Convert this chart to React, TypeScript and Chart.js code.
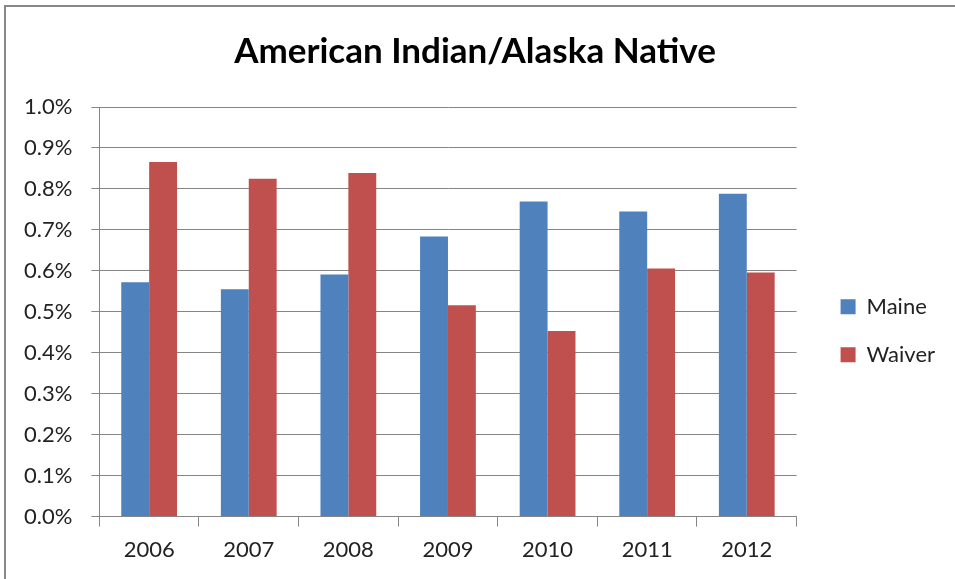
import React, { useEffect, useRef } from "react";
import { Chart, registerables } from "chart.js";

Chart.register(...registerables);

const categories = ["2006", "2007", "2008", "2009", "2010", "2011", "2012"];
const maineValues = [0.572, 0.555, 0.591, 0.684, 0.769, 0.745, 0.788];
const waiverValues = [0.866, 0.825, 0.839, 0.516, 0.453, 0.606, 0.596];
const seriesNames = ["Maine", "Waiver"];
const titleText = "American Indian/Alaska Native";

const FONT = "Lato, 'Open Sans', 'Liberation Sans', sans-serif";

export default function App() {
  const canvasRef = useRef<HTMLCanvasElement | null>(null);

  useEffect(() => {
    if (!canvasRef.current) return;
    const chart = new Chart(canvasRef.current, {
      type: "bar",
      data: {
        labels: categories,
        datasets: [
          {
            label: seriesNames[0],
            data: maineValues,
            backgroundColor: "#4f81bd",
            categoryPercentage: 0.56,
            barPercentage: 1.0,
          },
          {
            label: seriesNames[1],
            data: waiverValues,
            backgroundColor: "#c0504d",
            categoryPercentage: 0.56,
            barPercentage: 1.0,
          },
        ],
      },
      options: {
        animation: false,
        responsive: false,
        layout: { padding: { left: 5, right: 10, top: 0, bottom: 6 } },
        plugins: {
          title: {
            display: true,
            text: titleText,
            color: "#000",
            font: { family: FONT, size: 35, weight: "bold" },
            padding: { top: 31, bottom: 34 },
          },
          legend: {
            position: "right",
            fullSize: false,
            title: { display: true, text: " ", font: { size: 10 }, padding: 13 },
            labels: {
              boxWidth: 15,
              boxHeight: 15,
              color: "#222",
              font: { family: FONT, size: 22 },
              padding: 26,
            },
          },
          tooltip: { enabled: false },
        },
        scales: {
          x: {
            grid: {
              display: true,
              offset: true,
              drawOnChartArea: false,
              drawTicks: true,
              tickLength: 10,
              color: "#868686",
            },
            border: { color: "#868686" },
            ticks: {
              color: "#222",
              font: { family: FONT, size: 22 },
              padding: 10,
            },
          },
          y: {
            min: 0,
            max: 1.0,
            ticks: {
              stepSize: 0.1,
              color: "#222",
              font: { family: FONT, size: 22 },
              padding: 19,
              callback: (v: any) => Number(v).toFixed(1) + "%",
            },
            grid: { color: "#868686", tickLength: 8 },
            border: { color: "#868686" },
          },
          spacer: {
            type: "linear",
            position: "right",
            display: true,
            grid: { display: false, drawTicks: false },
            border: { display: false },
            ticks: { display: false },
            afterFit: (scale: any) => {
              scale.width = 18;
            },
          },
        },
      },
    });
    return () => chart.destroy();
  }, []);

  return (
    <div style={{ position: "fixed", left: 0, top: 0, width: 955, height: 579, background: "#fff" }}>
      <div
        style={{
          position: "absolute",
          left: 4,
          top: 5,
          width: 951,
          height: 574,
          borderTop: "2px solid #888",
          borderLeft: "2px solid #888",
          boxSizing: "border-box",
        }}
      />
      <canvas ref={canvasRef} width={955} height={579} style={{ position: "absolute", left: 0, top: 0 }} />
    </div>
  );
}
